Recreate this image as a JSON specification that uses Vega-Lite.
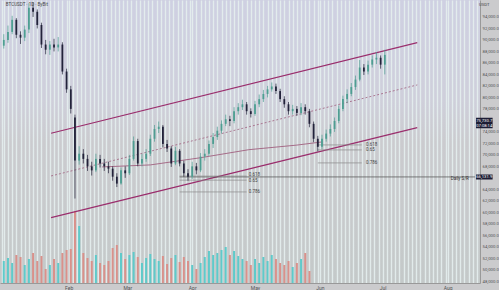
{
"$schema":"https://vega.github.io/schema/vega-lite/v6.json",
"width":480,"height":283,"padding":0,
"background":"#cbcbcd",
"view":{"stroke":null,"fill":{"gradient":"linear","x1":0,"y1":0,"x2":0,"y2":1,"stops":[{"offset":0,"color":"#cfd0e2"},{"offset":0.35,"color":"#cfcfdb"},{"offset":0.5,"color":"#cbcbcf"},{"offset":1,"color":"#c4c9c9"}]}},
"config":{"font":"Roboto","axisY":{"labelOverlap":false}},
"datasets":{
"k":[
{"d":"2025-01-01","o":89.0,"h":91.0,"l":88.5,"c":90.0,"v":22},
{"d":"2025-01-03","o":90.0,"h":92.5,"l":89.5,"c":91.4,"v":25},
{"d":"2025-01-05","o":91.4,"h":94.2,"l":91.0,"c":93.5,"v":20},
{"d":"2025-01-07","o":93.5,"h":93.8,"l":90.3,"c":90.9,"v":28},
{"d":"2025-01-09","o":90.9,"h":91.5,"l":89.3,"c":90.4,"v":26},
{"d":"2025-01-11","o":90.4,"h":92.5,"l":89.8,"c":91.8,"v":18},
{"d":"2025-01-13","o":91.8,"h":96.4,"l":91.2,"c":95.6,"v":24},
{"d":"2025-01-15","o":95.6,"h":96.6,"l":94.0,"c":94.9,"v":30},
{"d":"2025-01-17","o":94.9,"h":95.3,"l":92.0,"c":92.6,"v":22},
{"d":"2025-01-19","o":92.6,"h":93.0,"l":88.6,"c":89.2,"v":27},
{"d":"2025-01-21","o":89.2,"h":90.0,"l":87.5,"c":88.3,"v":14},
{"d":"2025-01-23","o":88.3,"h":89.8,"l":87.4,"c":89.2,"v":18},
{"d":"2025-01-25","o":89.2,"h":90.2,"l":88.0,"c":88.7,"v":24},
{"d":"2025-01-27","o":88.7,"h":90.5,"l":88.0,"c":89.2,"v":20},
{"d":"2025-01-29","o":89.2,"h":89.6,"l":84.0,"c":84.5,"v":30},
{"d":"2025-01-31","o":84.5,"h":85.0,"l":80.8,"c":81.4,"v":33},
{"d":"2025-02-02","o":81.4,"h":82.0,"l":77.2,"c":78.0,"v":34},
{"d":"2025-02-04","o":76.5,"h":77.0,"l":62.4,"c":69.0,"v":72},
{"d":"2025-02-06","o":69.0,"h":71.5,"l":68.3,"c":70.2,"v":57},
{"d":"2025-02-08","o":70.2,"h":71.0,"l":68.5,"c":69.3,"v":30},
{"d":"2025-02-10","o":69.3,"h":70.0,"l":67.2,"c":68.0,"v":25},
{"d":"2025-02-12","o":68.0,"h":68.8,"l":66.4,"c":67.3,"v":22},
{"d":"2025-02-14","o":67.3,"h":70.2,"l":67.0,"c":69.3,"v":28},
{"d":"2025-02-16","o":69.3,"h":70.0,"l":67.8,"c":68.5,"v":20},
{"d":"2025-02-18","o":68.5,"h":69.3,"l":67.2,"c":68.0,"v":18},
{"d":"2025-02-20","o":68.0,"h":68.8,"l":66.8,"c":67.6,"v":22},
{"d":"2025-02-22","o":67.6,"h":68.0,"l":65.5,"c":66.2,"v":35},
{"d":"2025-02-24","o":66.2,"h":66.8,"l":64.4,"c":65.0,"v":38},
{"d":"2025-02-26","o":65.0,"h":67.8,"l":64.8,"c":67.3,"v":30},
{"d":"2025-02-28","o":67.3,"h":68.0,"l":66.0,"c":66.8,"v":24},
{"d":"2025-03-02","o":66.8,"h":70.0,"l":66.5,"c":69.3,"v":28},
{"d":"2025-03-04","o":69.3,"h":73.2,"l":69.0,"c":72.4,"v":31},
{"d":"2025-03-06","o":72.4,"h":72.8,"l":68.0,"c":68.5,"v":26},
{"d":"2025-03-08","o":68.5,"h":70.2,"l":68.0,"c":69.3,"v":20},
{"d":"2025-03-10","o":69.3,"h":71.0,"l":68.8,"c":70.2,"v":25},
{"d":"2025-03-12","o":70.2,"h":73.5,"l":69.8,"c":72.8,"v":29},
{"d":"2025-03-14","o":72.8,"h":75.2,"l":72.3,"c":74.5,"v":24},
{"d":"2025-03-16","o":74.5,"h":75.8,"l":73.8,"c":74.9,"v":22},
{"d":"2025-03-18","o":74.9,"h":75.2,"l":71.3,"c":71.9,"v":27},
{"d":"2025-03-20","o":71.9,"h":72.6,"l":70.5,"c":71.1,"v":19},
{"d":"2025-03-22","o":71.1,"h":71.5,"l":67.9,"c":68.5,"v":25},
{"d":"2025-03-24","o":68.5,"h":71.4,"l":68.2,"c":70.7,"v":28},
{"d":"2025-03-26","o":70.7,"h":71.0,"l":68.0,"c":68.5,"v":21},
{"d":"2025-03-28","o":68.5,"h":69.0,"l":66.2,"c":66.8,"v":26},
{"d":"2025-03-30","o":66.8,"h":67.5,"l":65.5,"c":66.2,"v":22},
{"d":"2025-04-01","o":66.2,"h":68.8,"l":65.8,"c":68.0,"v":18},
{"d":"2025-04-03","o":68.0,"h":68.6,"l":66.6,"c":67.3,"v":14},
{"d":"2025-04-05","o":67.3,"h":70.3,"l":67.0,"c":69.7,"v":20},
{"d":"2025-04-07","o":69.7,"h":71.0,"l":69.0,"c":70.2,"v":26},
{"d":"2025-04-09","o":70.2,"h":72.5,"l":69.8,"c":71.9,"v":32},
{"d":"2025-04-11","o":71.9,"h":73.8,"l":71.2,"c":73.1,"v":28},
{"d":"2025-04-13","o":73.1,"h":74.9,"l":72.6,"c":74.2,"v":30},
{"d":"2025-04-15","o":74.2,"h":76.0,"l":73.7,"c":75.4,"v":33},
{"d":"2025-04-17","o":75.4,"h":77.0,"l":75.0,"c":76.2,"v":36},
{"d":"2025-04-19","o":76.2,"h":76.8,"l":75.0,"c":75.9,"v":28},
{"d":"2025-04-21","o":75.9,"h":78.3,"l":75.5,"c":77.6,"v":32},
{"d":"2025-04-23","o":77.6,"h":79.0,"l":77.0,"c":78.3,"v":27},
{"d":"2025-04-25","o":78.3,"h":79.6,"l":77.8,"c":78.8,"v":24},
{"d":"2025-04-27","o":78.8,"h":79.2,"l":77.0,"c":77.6,"v":22},
{"d":"2025-04-29","o":77.6,"h":78.1,"l":76.5,"c":77.1,"v":18},
{"d":"2025-05-01","o":77.1,"h":79.4,"l":76.8,"c":78.8,"v":24},
{"d":"2025-05-03","o":78.8,"h":80.5,"l":78.3,"c":79.7,"v":20},
{"d":"2025-05-05","o":79.7,"h":81.3,"l":79.2,"c":80.6,"v":26},
{"d":"2025-05-07","o":80.6,"h":82.0,"l":80.0,"c":81.4,"v":22},
{"d":"2025-05-09","o":81.4,"h":82.6,"l":81.0,"c":81.9,"v":28},
{"d":"2025-05-11","o":81.9,"h":82.4,"l":80.6,"c":81.1,"v":24},
{"d":"2025-05-13","o":81.1,"h":81.5,"l":79.2,"c":79.7,"v":20},
{"d":"2025-05-15","o":79.7,"h":80.2,"l":78.2,"c":78.8,"v":18},
{"d":"2025-05-17","o":78.8,"h":79.2,"l":77.0,"c":77.6,"v":22},
{"d":"2025-05-19","o":77.6,"h":78.7,"l":77.0,"c":78.0,"v":16},
{"d":"2025-05-21","o":78.0,"h":78.5,"l":76.8,"c":77.3,"v":20},
{"d":"2025-05-23","o":77.3,"h":79.0,"l":76.9,"c":78.3,"v":24},
{"d":"2025-05-25","o":78.3,"h":78.8,"l":77.0,"c":77.6,"v":30},
{"d":"2025-05-27","o":77.6,"h":78.0,"l":74.8,"c":75.4,"v":12},
{"d":"2025-05-29","o":75.4,"h":75.8,"l":72.2,"c":72.8},
{"d":"2025-05-31","o":72.8,"h":73.3,"l":70.6,"c":71.4},
{"d":"2025-06-02","o":71.4,"h":73.5,"l":71.0,"c":72.8},
{"d":"2025-06-04","o":72.8,"h":74.4,"l":72.3,"c":73.7},
{"d":"2025-06-06","o":73.7,"h":75.3,"l":73.2,"c":74.5},
{"d":"2025-06-08","o":74.5,"h":76.5,"l":74.0,"c":75.9},
{"d":"2025-06-10","o":75.9,"h":78.6,"l":75.5,"c":78.0},
{"d":"2025-06-12","o":78.0,"h":80.3,"l":77.6,"c":79.7},
{"d":"2025-06-14","o":79.7,"h":81.4,"l":79.0,"c":80.6},
{"d":"2025-06-16","o":80.6,"h":82.5,"l":80.2,"c":81.8},
{"d":"2025-06-18","o":81.8,"h":83.8,"l":81.3,"c":83.1},
{"d":"2025-06-20","o":83.1,"h":86.5,"l":82.8,"c":85.2},
{"d":"2025-06-22","o":85.2,"h":85.8,"l":83.9,"c":84.5},
{"d":"2025-06-24","o":84.5,"h":86.4,"l":84.0,"c":85.7},
{"d":"2025-06-26","o":85.7,"h":87.3,"l":85.2,"c":86.6},
{"d":"2025-06-28","o":86.6,"h":87.9,"l":85.8,"c":86.9},
{"d":"2025-06-30","o":86.9,"h":87.3,"l":85.0,"c":85.7},
{"d":"2025-07-02","o":85.7,"h":88.3,"l":84.0,"c":87.4}
],
"ch":[
{"d":"2025-01-23T14:00:00Z","d2":"2025-07-17T12:00:00Z","a":73.76,"b":89.53,"k":"u"},
{"d":"2025-01-23T14:00:00Z","d2":"2025-07-17T12:00:00Z","a":59.08,"b":74.74,"k":"l"},
{"d":"2025-01-23T14:00:00Z","d2":"2025-07-17T12:00:00Z","a":66.33,"b":82.17,"k":"m"}
],
"ma":[
{"d":"2025-02-17","p":67.9},{"d":"2025-03-12","p":68.25},{"d":"2025-04-05","p":69.5},
{"d":"2025-04-28","p":70.9},{"d":"2025-05-21","p":71.7},{"d":"2025-06-02","p":72.25}
],
"hl":[
{"d":"2025-03-26","d2":"2025-08-14T02:00:00Z","p":66.16,"k":"sr"},
{"d":"2025-03-26","d2":"2025-04-27","p":66.3,"k":"f"},
{"d":"2025-03-26","d2":"2025-04-27","p":65.6,"k":"f"},
{"d":"2025-03-26","d2":"2025-04-27","p":63.55,"k":"f"},
{"d":"2025-05-31","d2":"2025-06-21","p":71.73,"k":"f"},
{"d":"2025-05-31","d2":"2025-06-21","p":70.86,"k":"f"},
{"d":"2025-05-31","d2":"2025-06-21","p":68.6,"k":"f"}
],
"ft":[
{"d":"2025-04-28","p":66.5,"t":"0.618"},
{"d":"2025-04-28","p":65.5,"t":"0.65"},
{"d":"2025-04-28","p":63.55,"t":"0.786"},
{"d":"2025-06-23","p":71.73,"t":"0.618"},
{"d":"2025-06-23","p":70.86,"t":"0.65"},
{"d":"2025-06-23","p":68.6,"t":"0.786"},
{"d":"2025-01-02","p":96.1,"t":"BTCUSDT · 1D · ByBit"}
],
"bx":[
{"d":"2025-08-14T14:00:00Z","d2":"2025-08-22T12:00:00Z","a":76.45,"b":74.65},
{"d":"2025-08-14T14:00:00Z","d2":"2025-08-22T12:00:00Z","a":66.6,"b":65.7}
],
"bt":[
{"d":"2025-08-18T12:00:00Z","p":75.95,"t":"75,730.7","k":"w"},
{"d":"2025-08-18T12:00:00Z","p":75.1,"t":"07:08:14","k":"w"},
{"d":"2025-08-18T12:00:00Z","p":66.15,"t":"66,131.9","k":"w"},
{"d":"2025-08-18T12:00:00Z","p":96.0,"t":"USDT","k":"d"}
],
"rt":[
{"d":"2025-08-11T04:00:00Z","p":65.75,"t":"Daily S/R"}
]
},
"layer":[
{"data":{"name":"k"},
 "transform":[{"filter":"isValid(datum.v)"}],
 "mark":{"type":"bar","size":2,"clip":true},
 "encoding":{
  "x":{"field":"d","type":"temporal","scale":{"type":"utc","domain":["2025-01-01T14:00:00Z","2025-08-14T02:00:00Z"]}},
  "y":{"field":"v","type":"quantitative","scale":{"domain":[0,283]},"axis":null},
  "color":{"condition":{"test":"datum.c>=datum.o","value":"#5fcaca"},"value":"#d9918b"}}},
{"encoding":{"x":{"field":"d","type":"temporal","scale":{"type":"utc","domain":["2025-01-01T14:00:00Z","2025-08-14T02:00:00Z"]},
       "axis":{"title":null,"grid":true,"gridColor":"#e4eeee","gridOpacity":0.9,"gridWidth":1.4,"ticks":false,"domain":true,"domainColor":"#999999","tickCount":{"interval":"day","step":2},"labelExpr":"utcdate(datum.value)==1 && utcmonth(datum.value)>0 ? utcFormat(datum.value,'%b') : ''","labelOverlap":false,"labelFontSize":5,"labelColor":"#555555","labelPadding":2}}},
 "layer":[
  {"data":{"name":"ch"},"transform":[{"filter":"datum.k!='m'"}],
   "mark":{"type":"rule","color":"#9a2d6c","strokeWidth":1.1},
   "encoding":{"x2":{"field":"d2"},"y":{"field":"a","type":"quantitative","scale":{"domain":[47.7,96.95],"nice":false,"zero":false},
      "axis":{"orient":"right","title":null,"values":[48,50,52,54,56,58,60,62,64,68,70,72,74,78,80,82,84,86,88,90,92,94],"labelExpr":"format(datum.value*1000, ',.1f')","labelOverlap":false,"labelFontSize":4.3,"labelColor":"#555555","ticks":false,"grid":false,"domain":true,"domainColor":"#999999","labelPadding":2}},"y2":{"field":"b"}}},
  {"data":{"name":"ch"},"transform":[{"filter":"datum.k=='m'"}],
   "mark":{"type":"rule","color":"#a0607f","strokeWidth":0.8,"strokeDash":[2,2]},
   "encoding":{"x2":{"field":"d2"},"y":{"field":"a","type":"quantitative","scale":{"domain":[47.7,96.95],"nice":false,"zero":false},
      "axis":{"orient":"right","title":null,"values":[48,50,52,54,56,58,60,62,64,68,70,72,74,78,80,82,84,86,88,90,92,94],"labelExpr":"format(datum.value*1000, ',.1f')","labelOverlap":false,"labelFontSize":4.3,"labelColor":"#555555","ticks":false,"grid":false,"domain":true,"domainColor":"#999999","labelPadding":2}},"y2":{"field":"b"}}},
  {"data":{"name":"ma"},
   "mark":{"type":"line","color":"#a0607f","strokeWidth":0.9},
   "encoding":{"y":{"field":"p","type":"quantitative","scale":{"domain":[47.7,96.95],"nice":false,"zero":false},
      "axis":{"orient":"right","title":null,"values":[48,50,52,54,56,58,60,62,64,68,70,72,74,78,80,82,84,86,88,90,92,94],"labelExpr":"format(datum.value*1000, ',.1f')","labelOverlap":false,"labelFontSize":4.3,"labelColor":"#555555","ticks":false,"grid":false,"domain":true,"domainColor":"#999999","labelPadding":2}}}},
  {"data":{"name":"hl"},
   "mark":{"type":"rule","strokeWidth":0.7},
   "encoding":{"x2":{"field":"d2"},"y":{"field":"p","type":"quantitative","scale":{"domain":[47.7,96.95],"nice":false,"zero":false},
      "axis":{"orient":"right","title":null,"values":[48,50,52,54,56,58,60,62,64,68,70,72,74,78,80,82,84,86,88,90,92,94],"labelExpr":"format(datum.value*1000, ',.1f')","labelOverlap":false,"labelFontSize":4.3,"labelColor":"#555555","ticks":false,"grid":false,"domain":true,"domainColor":"#999999","labelPadding":2}},
     "color":{"condition":{"test":"datum.k=='sr'","value":"#4a4a4a"},"value":"#8a8a8a"}}},
  {"data":{"name":"k"},
   "mark":{"type":"rule","strokeWidth":0.7,"clip":true},
   "encoding":{"y":{"field":"l","type":"quantitative","scale":{"domain":[47.7,96.95],"nice":false,"zero":false},
      "axis":{"orient":"right","title":null,"values":[48,50,52,54,56,58,60,62,64,68,70,72,74,78,80,82,84,86,88,90,92,94],"labelExpr":"format(datum.value*1000, ',.1f')","labelOverlap":false,"labelFontSize":4.3,"labelColor":"#555555","ticks":false,"grid":false,"domain":true,"domainColor":"#999999","labelPadding":2}},"y2":{"field":"h"},
     "color":{"condition":{"test":"datum.c>=datum.o","value":"#4e9e92"},"value":"#22223a"}}},
  {"data":{"name":"k"},
   "mark":{"type":"bar","size":1.8,"clip":true},
   "encoding":{"y":{"field":"o","type":"quantitative","scale":{"domain":[47.7,96.95],"nice":false,"zero":false},
      "axis":{"orient":"right","title":null,"values":[48,50,52,54,56,58,60,62,64,68,70,72,74,78,80,82,84,86,88,90,92,94],"labelExpr":"format(datum.value*1000, ',.1f')","labelOverlap":false,"labelFontSize":4.3,"labelColor":"#555555","ticks":false,"grid":false,"domain":true,"domainColor":"#999999","labelPadding":2}},
     "y2":{"field":"c"},
     "color":{"condition":{"test":"datum.c>=datum.o","value":"#4e9e92"},"value":"#22223a"}}},
  {"data":{"name":"ft"},
   "mark":{"type":"text","align":"left","baseline":"middle","fontSize":4.5,"color":"#444444"},
   "encoding":{"y":{"field":"p","type":"quantitative","scale":{"domain":[47.7,96.95],"nice":false,"zero":false},
      "axis":{"orient":"right","title":null,"values":[48,50,52,54,56,58,60,62,64,68,70,72,74,78,80,82,84,86,88,90,92,94],"labelExpr":"format(datum.value*1000, ',.1f')","labelOverlap":false,"labelFontSize":4.3,"labelColor":"#555555","ticks":false,"grid":false,"domain":true,"domainColor":"#999999","labelPadding":2}},"text":{"field":"t"}}},
  {"data":{"name":"bx"},
   "mark":{"type":"rect","color":"#1d1d35"},
   "encoding":{"x2":{"field":"d2"},"y":{"field":"a","type":"quantitative","scale":{"domain":[47.7,96.95],"nice":false,"zero":false},
      "axis":{"orient":"right","title":null,"values":[48,50,52,54,56,58,60,62,64,68,70,72,74,78,80,82,84,86,88,90,92,94],"labelExpr":"format(datum.value*1000, ',.1f')","labelOverlap":false,"labelFontSize":4.3,"labelColor":"#555555","ticks":false,"grid":false,"domain":true,"domainColor":"#999999","labelPadding":2}},"y2":{"field":"b"}}},
  {"data":{"name":"bt"},
   "mark":{"type":"text","align":"center","baseline":"middle","fontSize":4.2},
   "encoding":{"y":{"field":"p","type":"quantitative","scale":{"domain":[47.7,96.95],"nice":false,"zero":false},
      "axis":{"orient":"right","title":null,"values":[48,50,52,54,56,58,60,62,64,68,70,72,74,78,80,82,84,86,88,90,92,94],"labelExpr":"format(datum.value*1000, ',.1f')","labelOverlap":false,"labelFontSize":4.3,"labelColor":"#555555","ticks":false,"grid":false,"domain":true,"domainColor":"#999999","labelPadding":2}},"text":{"field":"t"},
     "color":{"condition":{"test":"datum.k=='w'","value":"#ffffff"},"value":"#444444"}}},
  {"data":{"name":"rt"},
   "mark":{"type":"text","align":"right","baseline":"middle","fontSize":4.5,"color":"#333333"},
   "encoding":{"y":{"field":"p","type":"quantitative","scale":{"domain":[47.7,96.95],"nice":false,"zero":false},
      "axis":{"orient":"right","title":null,"values":[48,50,52,54,56,58,60,62,64,68,70,72,74,78,80,82,84,86,88,90,92,94],"labelExpr":"format(datum.value*1000, ',.1f')","labelOverlap":false,"labelFontSize":4.3,"labelColor":"#555555","ticks":false,"grid":false,"domain":true,"domainColor":"#999999","labelPadding":2}},"text":{"field":"t"}}}
 ]}
],
"resolve":{"scale":{"y":"independent"}}
}
